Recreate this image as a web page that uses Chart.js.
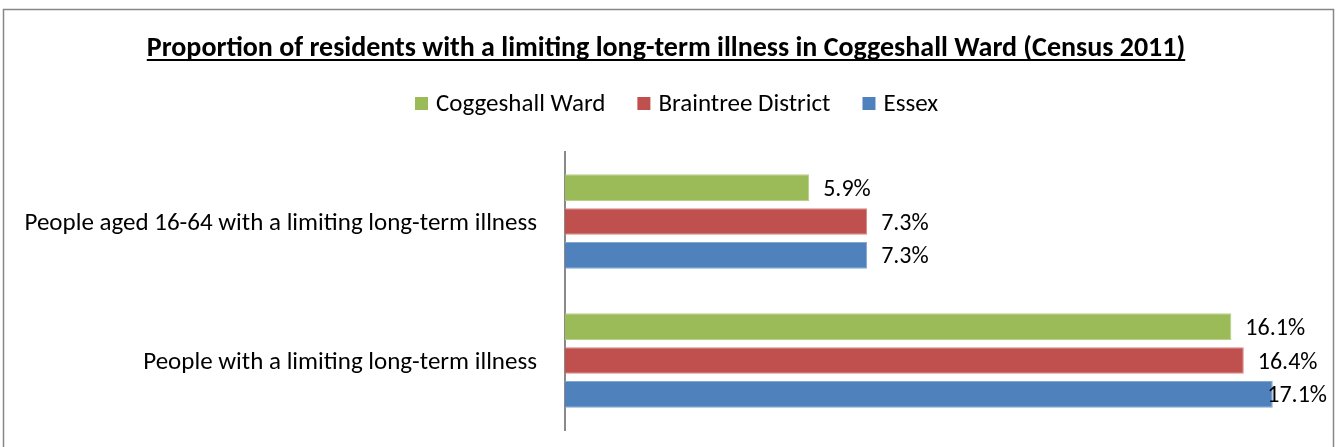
<!DOCTYPE html>
<html>
<head>
<meta charset="utf-8">
<script src="https://cdn.jsdelivr.net/npm/chart.js@4/dist/chart.umd.min.js"></script>
<style>
  html, body { margin: 0; padding: 0; background: #fff; }
  #wrap { position: relative; width: 1336px; height: 447px; }
</style>
</head>
<body>
<div id="wrap"><canvas id="c" width="1336" height="447"></canvas></div>
<script>
const categories = ["People aged 16-64 with a limiting long-term illness", "People with a limiting long-term illness"];
const seriesNames = ["Coggeshall Ward", "Braintree District", "Essex"];
const coggeshallWard = [5.9, 16.1];
const braintreeDistrict = [7.3, 16.4];
const essex = [7.3, 17.1];
const titleText = "Proportion of residents with a limiting long-term illness in Coggeshall Ward (Census 2011)";

const colors = ["#9BBB59", "#C0504D", "#4F81BD"];
const borders = ["#B9D08A", "#D48886", "#84A7D2"];
const FONT = "Carlito, Calibri, Lato, 'Liberation Sans', sans-serif";

const decorPlugin = {
  id: 'decor',
  beforeDraw(chart) {
    const ctx = chart.ctx;
    ctx.save();
    ctx.fillStyle = '#fff';
    ctx.fillRect(0, 0, chart.width, chart.height);
    ctx.strokeStyle = '#878787';
    ctx.lineWidth = 1.5;
    ctx.strokeRect(3.5, 9.5, 1330, 460);
    // title
    ctx.font = "bold 28px " + FONT;
    ctx.fillStyle = '#000';
    ctx.textBaseline = 'alphabetic';
    ctx.textAlign = 'center';
    const tw = ctx.measureText(titleText).width;
    const tx = 666;
    ctx.fillText(titleText, tx, 56);
    ctx.fillRect(tx - tw / 2, 59, tw, 2);
    // legend
    ctx.font = "25px " + FONT;
    ctx.textAlign = 'left';
    const box = 13, gapBox = 8, gapItem = 32;
    let x = 415;
    seriesNames.forEach((n, i) => {
      const w = ctx.measureText(n).width;
      ctx.fillStyle = colors[i];
      ctx.fillRect(x, 97, box, box);
      ctx.fillStyle = '#000';
      ctx.fillText(n, x + box + gapBox, 111);
      x += box + gapBox + w + gapItem;
    });
    ctx.restore();
  },
  afterDraw(chart) {
    const ctx = chart.ctx;
    ctx.save();
    const yScale = chart.scales.y;
    ctx.font = "25px " + FONT;
    ctx.fillStyle = '#000';
    ctx.textBaseline = 'alphabetic';
    ctx.textAlign = 'right';
    chart.data.labels.forEach((lab, i) => {
      ctx.fillText(lab, 537, yScale.getPixelForValue(i) + 8.5);
    });
    ctx.font = "24px " + FONT;
    ctx.textAlign = 'left';
    chart.data.datasets.forEach((ds, di) => {
      const meta = chart.getDatasetMeta(di);
      meta.data.forEach((el, i) => {
        const label = ds.data[i].toFixed(1) + '%';
        const w = ctx.measureText(label).width;
        let lx = el.x + 14;
        if (lx + w > 1327) lx = 1327 - w;
        ctx.fillText(label, lx, el.y + 8);
      });
    });
    ctx.restore();
  }
};

new Chart(document.getElementById('c'), {
  type: 'bar',
  data: {
    labels: categories,
    datasets: [
      { label: seriesNames[0], data: coggeshallWard, backgroundColor: colors[0], borderColor: borders[0], borderWidth: 1 },
      { label: seriesNames[1], data: braintreeDistrict, backgroundColor: colors[1], borderColor: borders[1], borderWidth: 1 },
      { label: seriesNames[2], data: essex, backgroundColor: colors[2], borderColor: borders[2], borderWidth: 1 }
    ]
  },
  options: {
    indexAxis: 'y',
    responsive: false,
    animation: false,
    devicePixelRatio: 1,
    categoryPercentage: 0.73,
    barPercentage: 0.79,
    layout: { padding: { left: 0, right: 26, top: 152, bottom: 17 } },
    plugins: { legend: { display: false }, title: { display: false }, tooltip: { enabled: false } },
    scales: {
      x: { display: false, min: 0, max: 18 },
      y: {
        position: 'left',
        afterFit(scale) { scale.width = 565; },
        grid: { display: false, drawTicks: false },
        border: { display: true, color: '#898989', width: 2 },
        ticks: { display: false }
      }
    }
  },
  plugins: [decorPlugin]
});
</script>
</body>
</html>
